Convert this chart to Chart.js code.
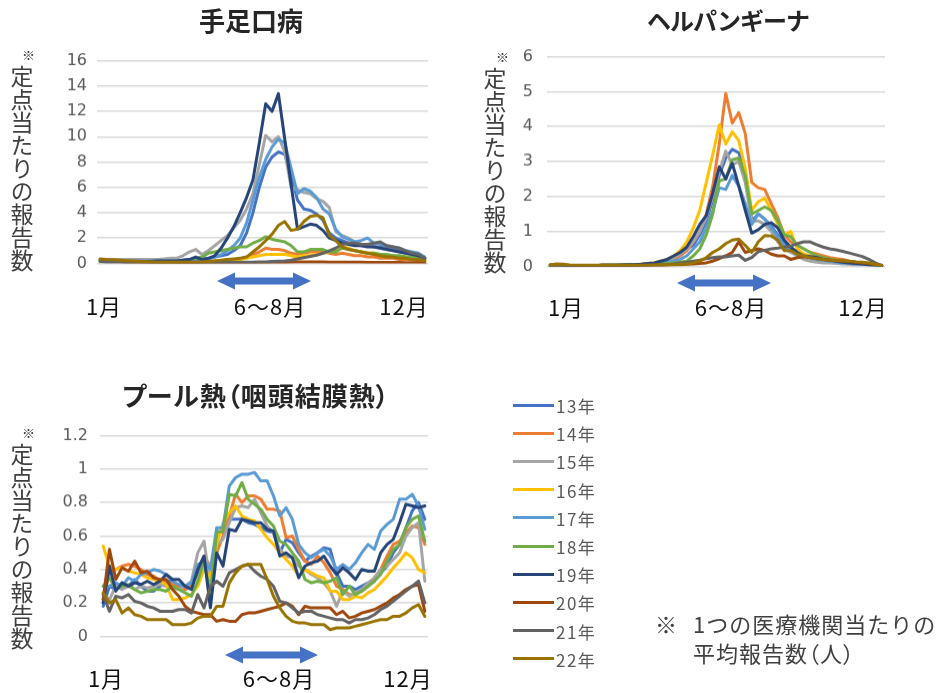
<!DOCTYPE html>
<html><head><meta charset="utf-8">
<script src="https://cdn.jsdelivr.net/npm/chart.js@4.4.1/dist/chart.umd.min.js"></script>
<style>
html,body{margin:0;padding:0;background:#fff;}
#page{position:relative;width:939px;height:693px;overflow:hidden;font-family:"Noto Sans CJK JP",sans-serif;}
.abs{position:absolute;white-space:nowrap;}
.title{font-weight:bold;font-size:26px;line-height:26px;color:#262626;transform:translate(-50%,-50%);}
.ytitle{writing-mode:vertical-rl;font-size:23px;line-height:23px;color:#404040;}
.kome{font-size:13px;line-height:13px;color:#404040;}
.xl{font-size:22px;line-height:22px;color:#111;letter-spacing:1px;transform:translate(-50%,-50%);}
.leg{font-size:17px;line-height:17px;color:#595959;letter-spacing:1.5px;transform:translateY(-50%);}
.legline{position:absolute;height:3px;width:41px;}
.note{font-size:22px;line-height:22px;color:#404040;letter-spacing:1px;}
canvas{position:absolute;}
svg{position:absolute;left:0;top:0;}
</style></head>
<body><div id="page">
<canvas id="c1"></canvas><canvas id="c2"></canvas><canvas id="c3"></canvas>
<svg id="arrows" width="939" height="693"></svg>
</div>
<script>
// ---- data ----
const years = ['13年','14年','15年','16年','17年','18年','19年','20年','21年','22年'];
const colors = ['#4472C4','#ED7D31','#A5A5A5','#FFC000','#5B9BD5','#70AD47','#264478','#9E480E','#636363','#997300'];
const weeks = Array.from({length:52},(_,i)=>String(i+1));

const hfmdTicks = [0,2,4,6,8,10,12,14,16];
const herpTicks = [0,1,2,3,4,5,6];
const poolTicks = [0,0.2,0.4,0.6,0.8,1,1.2];
const poolTickLabels = ['0','0.2','0.4','0.6','0.8','1','1.2'];

// 手足口病
const hfmd13 = [0.3,0.25,0.2,0.2,0.2,0.2,0.2,0.2,0.2,0.2, 0.2,0.2,0.2,0.25,0.3,0.3,0.35,0.4,0.5,0.6, 0.7,1.0,1.4,2.4,4.0,6.0,7.6,8.4,8.8,8.6, 7.0,5.0,4.3,4.2,3.9,3.4,2.4,2.0,1.8,1.6, 1.5,1.4,1.4,1.3,1.3,1.2,1.1,1.0,0.9,0.8, 0.6,0.4];
const hfmd14 = [0.3,0.25,0.2,0.15,0.15,0.15,0.15,0.15,0.15,0.15, 0.15,0.15,0.15,0.15,0.15,0.15,0.15,0.15,0.2,0.2, 0.3,0.3,0.4,0.5,0.7,0.9,1.2,1.1,1.1,1.0, 0.8,0.7,0.8,0.9,0.9,0.9,0.8,0.7,0.8,0.7, 0.6,0.6,0.5,0.5,0.4,0.4,0.4,0.3,0.3,0.3, 0.2,0.2];
const hfmd15 = [0.3,0.3,0.3,0.3,0.3,0.3,0.3,0.3,0.3,0.3, 0.35,0.4,0.4,0.6,0.9,1.1,0.7,1.0,1.4,1.8, 2.2,2.8,3.4,4.3,5.5,7.8,10.1,9.6,10.0,8.8, 6.0,5.8,5.6,5.5,5.1,4.9,4.4,2.5,2.2,2.0, 1.7,1.5,1.4,1.3,1.2,1.1,1.0,0.9,0.8,0.7, 0.6,0.4];
const hfmd16 = [0.2,0.2,0.15,0.15,0.15,0.15,0.15,0.15,0.15,0.15, 0.15,0.15,0.15,0.15,0.15,0.15,0.15,0.15,0.15,0.2, 0.2,0.2,0.3,0.4,0.5,0.6,0.7,0.7,0.7,0.7, 0.6,0.5,0.6,0.6,0.7,0.8,0.9,1.1,1.3,1.2, 1.0,0.9,0.8,0.8,0.7,0.6,0.6,0.5,0.5,0.4, 0.3,0.2];
const hfmd17 = [0.2,0.2,0.2,0.2,0.2,0.2,0.2,0.2,0.2,0.2, 0.2,0.2,0.2,0.2,0.25,0.3,0.3,0.35,0.5,0.7, 1.0,1.4,2.0,3.2,5.0,6.8,8.2,9.2,9.8,9.5, 7.5,5.5,5.9,5.7,5.2,4.3,3.9,2.7,2.1,1.9, 1.7,1.8,2.0,1.6,1.5,1.4,1.3,1.2,1.0,0.9, 0.8,0.5];
const hfmd18 = [0.2,0.2,0.15,0.15,0.15,0.15,0.15,0.15,0.15,0.15, 0.15,0.15,0.2,0.2,0.3,0.4,0.5,0.8,0.9,1.0, 1.1,1.2,1.3,1.3,1.6,1.8,2.1,1.9,1.8,1.7, 1.4,0.9,0.9,1.1,1.1,1.1,0.9,0.9,1.2,1.1, 1.0,0.9,0.8,0.8,0.7,0.7,0.6,0.6,0.5,0.5, 0.4,0.3];
const hfmd19 = [0.2,0.2,0.15,0.15,0.15,0.15,0.15,0.15,0.15,0.2, 0.2,0.2,0.2,0.25,0.3,0.5,0.3,0.4,0.6,1.2, 2.0,2.9,4.0,5.2,6.6,9.5,12.6,12.0,13.4,9.8, 6.2,2.7,2.9,3.1,3.0,2.6,2.0,1.8,1.6,1.5, 1.4,1.4,1.3,1.3,1.2,1.1,1.0,0.9,0.8,0.7, 0.6,0.4];
const hfmd20 = [0.3,0.25,0.2,0.15,0.1,0.1,0.1,0.08,0.08,0.08, 0.05,0.05,0.05,0.05,0.05,0.05,0.05,0.05,0.05,0.05, 0.05,0.05,0.05,0.05,0.05,0.05,0.05,0.05,0.05,0.08, 0.1,0.12,0.12,0.12,0.12,0.12,0.1,0.1,0.1,0.1, 0.1,0.1,0.08,0.08,0.08,0.08,0.08,0.08,0.06,0.06, 0.05,0.05];
const hfmd21 = [0.15,0.1,0.1,0.1,0.1,0.1,0.1,0.1,0.1,0.1, 0.1,0.1,0.1,0.1,0.1,0.1,0.1,0.1,0.1,0.1, 0.1,0.1,0.1,0.1,0.1,0.12,0.12,0.15,0.18,0.2, 0.25,0.35,0.45,0.55,0.65,0.8,1.0,1.2,1.5,1.6, 1.6,1.5,1.5,1.6,1.7,1.4,1.3,1.2,1.0,0.8, 0.7,0.4];
const hfmd22 = [0.35,0.3,0.28,0.25,0.22,0.2,0.18,0.15,0.12,0.1, 0.1,0.1,0.1,0.1,0.1,0.1,0.12,0.15,0.2,0.25, 0.3,0.35,0.4,0.5,0.9,1.3,1.8,2.3,3.0,3.3, 2.6,2.7,3.3,3.7,3.8,3.6,2.2,1.8,1.3,1.1, 1.0,0.9,0.8,0.7,0.6,0.5,0.5,0.4,0.4,0.3, 0.3,0.2];

// ヘルパンギーナ
const herp13 = [0.03,0.05,0.03,0.02,0.02,0.02,0.02,0.02,0.03,0.03, 0.03,0.03,0.04,0.04,0.05,0.06,0.08,0.1,0.15,0.25, 0.35,0.5,0.6,0.9,1.3,1.9,2.6,3.1,3.35,3.25, 2.7,1.3,1.5,1.35,1.15,0.9,0.7,0.5,0.4,0.3, 0.25,0.2,0.18,0.15,0.12,0.1,0.1,0.08,0.06,0.05, 0.03,0.02];
const herp14 = [0.03,0.05,0.03,0.02,0.02,0.02,0.02,0.02,0.03,0.03, 0.03,0.03,0.04,0.04,0.05,0.06,0.08,0.1,0.15,0.2, 0.3,0.45,0.7,1.0,1.5,2.3,3.5,4.95,4.1,4.4, 3.8,2.4,2.25,2.2,1.8,1.4,0.9,0.7,0.6,0.5, 0.4,0.35,0.3,0.25,0.22,0.2,0.15,0.12,0.1,0.08, 0.05,0.02];
const herp15 = [0.03,0.05,0.03,0.02,0.02,0.02,0.02,0.02,0.03,0.03, 0.03,0.04,0.05,0.05,0.06,0.07,0.08,0.1,0.15,0.25, 0.35,0.5,0.7,1.0,1.4,2.0,2.7,3.3,2.9,3.0, 2.4,1.3,1.3,1.2,1.0,0.7,0.5,0.4,0.3,0.2, 0.15,0.12,0.1,0.1,0.08,0.07,0.06,0.05,0.05,0.04, 0.03,0.02];
const herp16 = [0.03,0.05,0.03,0.02,0.02,0.02,0.02,0.02,0.03,0.03, 0.03,0.03,0.04,0.05,0.06,0.08,0.1,0.15,0.2,0.3, 0.45,0.7,1.1,1.6,2.4,3.2,4.05,3.5,3.85,3.6, 2.8,1.6,1.85,1.95,1.6,1.2,0.9,1.0,0.5,0.35, 0.3,0.25,0.2,0.18,0.15,0.12,0.1,0.1,0.08,0.06, 0.03,0.02];
const herp17 = [0.03,0.05,0.03,0.02,0.02,0.02,0.02,0.02,0.03,0.03, 0.03,0.03,0.04,0.04,0.05,0.06,0.08,0.1,0.12,0.15, 0.2,0.3,0.5,0.7,1.1,1.6,2.25,2.2,2.6,2.3, 1.8,1.2,1.5,1.35,1.1,0.85,0.6,0.45,0.35,0.3, 0.25,0.2,0.18,0.15,0.12,0.1,0.08,0.07,0.06,0.05, 0.03,0.02];
const herp18 = [0.03,0.05,0.03,0.02,0.02,0.02,0.02,0.02,0.03,0.03, 0.03,0.03,0.04,0.04,0.05,0.05,0.06,0.07,0.08,0.1, 0.12,0.15,0.3,0.5,0.9,1.5,2.45,2.5,3.05,3.1, 2.6,1.5,1.6,1.7,1.6,1.3,0.9,0.85,0.6,0.5, 0.4,0.3,0.25,0.2,0.18,0.15,0.12,0.1,0.08,0.06, 0.04,0.02];
const herp19 = [0.03,0.05,0.03,0.02,0.02,0.02,0.02,0.02,0.03,0.03, 0.03,0.04,0.05,0.05,0.06,0.08,0.1,0.15,0.2,0.3, 0.4,0.55,0.85,1.2,1.45,2.1,2.85,2.5,2.95,2.3, 1.6,0.95,1.05,1.2,1.25,1.1,0.75,0.55,0.4,0.3, 0.28,0.25,0.2,0.18,0.15,0.12,0.1,0.08,0.07,0.05, 0.03,0.02];
const herp20 = [0.03,0.05,0.03,0.02,0.02,0.02,0.02,0.02,0.02,0.02, 0.02,0.02,0.02,0.02,0.02,0.02,0.03,0.03,0.04,0.05, 0.05,0.06,0.07,0.08,0.1,0.15,0.22,0.3,0.4,0.7, 0.4,0.45,0.5,0.45,0.35,0.3,0.3,0.2,0.25,0.28, 0.25,0.22,0.2,0.18,0.16,0.15,0.14,0.12,0.1,0.08, 0.05,0.03];
const herp21 = [0.02,0.03,0.02,0.02,0.02,0.02,0.02,0.02,0.02,0.02, 0.02,0.02,0.02,0.02,0.02,0.03,0.03,0.03,0.05,0.07, 0.1,0.12,0.15,0.18,0.22,0.25,0.27,0.27,0.3,0.32, 0.17,0.25,0.42,0.46,0.5,0.52,0.55,0.58,0.65,0.7, 0.7,0.62,0.55,0.5,0.47,0.43,0.38,0.33,0.28,0.2, 0.1,0.02];
const herp22 = [0.05,0.07,0.06,0.04,0.03,0.03,0.03,0.03,0.03,0.03, 0.03,0.03,0.03,0.03,0.03,0.03,0.04,0.04,0.05,0.05, 0.06,0.07,0.1,0.15,0.25,0.4,0.5,0.65,0.75,0.78, 0.6,0.4,0.7,0.88,0.87,0.75,0.45,0.45,0.35,0.3, 0.25,0.22,0.2,0.18,0.17,0.16,0.15,0.13,0.12,0.1, 0.06,0.02];

// プール熱
const pool13 = [0.18,0.30,0.28,0.32,0.30,0.34,0.30,0.27,0.27,0.30, 0.33,0.33,0.30,0.28,0.30,0.38,0.45,0.30,0.63,0.62, 0.70,0.70,0.70,0.68,0.67,0.65,0.63,0.62,0.50,0.58, 0.56,0.50,0.45,0.48,0.50,0.53,0.52,0.38,0.30,0.30, 0.28,0.30,0.32,0.33,0.38,0.42,0.50,0.55,0.65,0.75, 0.80,0.70];
const pool14 = [0.22,0.38,0.40,0.42,0.43,0.42,0.40,0.37,0.36,0.33, 0.32,0.31,0.30,0.28,0.30,0.40,0.48,0.42,0.50,0.60, 0.72,0.85,0.80,0.84,0.84,0.82,0.76,0.76,0.75,0.59, 0.60,0.52,0.45,0.43,0.48,0.44,0.38,0.30,0.28,0.25, 0.25,0.27,0.30,0.35,0.40,0.48,0.55,0.57,0.62,0.66, 0.65,0.55];
const pool15 = [0.25,0.22,0.30,0.28,0.30,0.28,0.30,0.29,0.30,0.31, 0.30,0.29,0.28,0.30,0.33,0.50,0.57,0.30,0.55,0.58, 0.68,0.77,0.78,0.77,0.82,0.74,0.66,0.62,0.52,0.48, 0.47,0.42,0.40,0.37,0.35,0.32,0.27,0.18,0.27,0.24, 0.26,0.28,0.32,0.35,0.40,0.42,0.46,0.50,0.60,0.65, 0.68,0.33];
const pool16 = [0.54,0.42,0.40,0.41,0.39,0.38,0.37,0.35,0.34,0.33, 0.31,0.22,0.22,0.23,0.25,0.30,0.40,0.35,0.55,0.68, 0.74,0.78,0.72,0.70,0.69,0.64,0.59,0.55,0.50,0.46, 0.42,0.36,0.40,0.38,0.36,0.35,0.27,0.27,0.22,0.22, 0.24,0.23,0.26,0.28,0.32,0.36,0.41,0.45,0.50,0.47, 0.40,0.38];
const pool17 = [0.30,0.30,0.32,0.30,0.35,0.33,0.37,0.38,0.40,0.39, 0.37,0.33,0.31,0.30,0.32,0.43,0.45,0.40,0.65,0.65, 0.90,0.95,0.97,0.97,0.98,0.93,0.93,0.84,0.72,0.77, 0.70,0.55,0.50,0.47,0.50,0.52,0.48,0.40,0.43,0.40, 0.44,0.50,0.55,0.52,0.63,0.67,0.70,0.82,0.82,0.85, 0.78,0.64];
const pool18 = [0.30,0.35,0.28,0.30,0.31,0.28,0.26,0.27,0.28,0.28, 0.27,0.30,0.28,0.26,0.24,0.33,0.45,0.25,0.62,0.63, 0.85,0.84,0.92,0.82,0.79,0.76,0.70,0.66,0.57,0.55, 0.50,0.45,0.34,0.32,0.33,0.32,0.33,0.35,0.25,0.30, 0.25,0.27,0.30,0.33,0.37,0.45,0.52,0.55,0.65,0.70, 0.72,0.57];
const pool19 = [0.20,0.42,0.27,0.32,0.30,0.32,0.31,0.33,0.31,0.33, 0.37,0.34,0.34,0.30,0.28,0.40,0.48,0.17,0.50,0.42, 0.64,0.63,0.70,0.69,0.68,0.68,0.64,0.63,0.48,0.50, 0.47,0.35,0.42,0.44,0.45,0.48,0.42,0.37,0.41,0.38, 0.34,0.40,0.39,0.39,0.50,0.55,0.58,0.68,0.79,0.78, 0.77,0.78];
const pool20 = [0.22,0.52,0.34,0.41,0.39,0.45,0.38,0.39,0.35,0.34, 0.34,0.28,0.24,0.18,0.15,0.14,0.13,0.13,0.09,0.10, 0.09,0.09,0.13,0.14,0.14,0.15,0.16,0.17,0.18,0.20, 0.18,0.13,0.18,0.17,0.17,0.17,0.17,0.13,0.15,0.11, 0.12,0.14,0.15,0.16,0.18,0.20,0.23,0.25,0.28,0.30, 0.31,0.15];
const pool21 = [0.25,0.15,0.24,0.23,0.25,0.21,0.20,0.18,0.17,0.15, 0.15,0.15,0.16,0.16,0.14,0.25,0.17,0.30,0.33,0.30, 0.38,0.40,0.42,0.43,0.39,0.36,0.34,0.30,0.21,0.20, 0.17,0.14,0.15,0.15,0.13,0.12,0.11,0.10,0.10,0.08, 0.10,0.10,0.11,0.13,0.16,0.18,0.21,0.24,0.27,0.30, 0.33,0.20];
const pool22 = [0.26,0.20,0.22,0.14,0.17,0.13,0.12,0.10,0.10,0.10, 0.10,0.07,0.07,0.07,0.08,0.11,0.12,0.12,0.18,0.18, 0.32,0.38,0.42,0.43,0.43,0.43,0.34,0.24,0.17,0.12, 0.09,0.08,0.08,0.07,0.07,0.07,0.04,0.05,0.05,0.05, 0.06,0.07,0.08,0.09,0.10,0.10,0.12,0.12,0.14,0.17, 0.19,0.12];

const titles = ['手足口病','ヘルパンギーナ','プール熱（咽頭結膜熱）'];
const yTitle = '定点当たりの報告数';
const xLabels = ['1月','6～8月','12月'];
const noteLines = ['1つの医療機関当たりの','平均報告数（人）'];

// ---- layout ----
const page = document.getElementById('page');
function addDiv(cls, text, x, y, extra) {
  const d = document.createElement('div');
  d.className = 'abs ' + cls; d.textContent = text;
  d.style.left = x + 'px'; d.style.top = y + 'px';
  if (extra) Object.assign(d.style, extra);
  page.appendChild(d); return d;
}

function makeChart(cv, W, H, ticks, labels, pad, series) {
  cv.width = W; cv.height = H; cv.style.width = W + 'px'; cv.style.height = H + 'px';
  return new Chart(cv, {
    type: 'line',
    data: {
      labels: weeks,
      datasets: years.map((y, i) => ({
        label: y, data: series[i], borderColor: colors[i], backgroundColor: colors[i],
        borderWidth: 3, pointRadius: 0, pointHoverRadius: 0, tension: 0, fill: false,
        borderJoinStyle: 'round', borderCapStyle: 'round', order: years.length - i
      }))
    },
    options: {
      responsive: false, maintainAspectRatio: false, animation: false, devicePixelRatio: 1,
      layout: { padding: { top: 14, right: 6, bottom: 14, left: 0 } },
      plugins: { legend: { display: false }, tooltip: { enabled: false } },
      scales: {
        x: { display: false, offset: true },
        y: {
          min: ticks[0], max: ticks[ticks.length - 1],
          afterFit: s => { s.width = 60; },
          afterBuildTicks: s => { s.ticks = ticks.map(v => ({ value: v })); },
          border: { display: false },
          grid: { color: '#d9d9d9', lineWidth: 1.5, drawTicks: false },
          ticks: { padding: pad, color: '#595959', font: { family: 'DejaVu Sans', size: 16 },
                   callback: (v, i) => labels[i] }
        }
      }
    }
  });
}

function build(id, box, ticks, labels, pad, series) {
  const cv = document.getElementById(id);
  let W = box.r - box.l + 66, H = box.b - box.t + 28;
  let chart = makeChart(cv, W, H, ticks, labels, pad, series);
  let ca = chart.chartArea;
  const dw = (box.r - box.l) - (ca.right - ca.left);
  const dh = (box.b - box.t) - (ca.bottom - ca.top);
  if (Math.abs(dw) > 0.5 || Math.abs(dh) > 0.5) {
    chart.destroy();
    W += dw; H += dh;
    chart = makeChart(cv, W, H, ticks, labels, pad, series);
    ca = chart.chartArea;
  }
  cv.style.left = (box.l - ca.left) + 'px';
  cv.style.top = (box.t - ca.top) + 'px';
  return chart;
}

build('c1', { l: 97, r: 428, t: 61, b: 263 }, hfmdTicks, hfmdTicks.map(String), 10,
  [hfmd13, hfmd14, hfmd15, hfmd16, hfmd17, hfmd18, hfmd19, hfmd20, hfmd21, hfmd22]);
build('c2', { l: 547, r: 885, t: 57, b: 266 }, herpTicks, herpTicks.map(String), 14,
  [herp13, herp14, herp15, herp16, herp17, herp18, herp19, herp20, herp21, herp22]);
build('c3', { l: 100, r: 428, t: 436, b: 636 }, poolTicks, poolTickLabels, 12,
  [pool13, pool14, pool15, pool16, pool17, pool18, pool19, pool20, pool21, pool22]);

// titles
addDiv('title', titles[0], 251, 20);
addDiv('title', titles[1], 728, 20, { fontSize: '24px', letterSpacing: '-1px' });
addDiv('title', titles[2], 256, 395, { fontFeatureSettings: '"palt"', letterSpacing: '1px' });

// y titles
[[10, 65, 22, 48], [483, 67, 496, 50], [10, 443, 22, 426]].forEach(p => {
  addDiv('ytitle', yTitle, p[0], p[1]);
  addDiv('kome', '※', p[2], p[3]);
});

// x labels
[[104, 305, 270, 404], [566, 306, 731, 863], [106, 677, 279, 408]].forEach(p => {
  addDiv('xl', xLabels[0], p[0], p[1]);
  addDiv('xl', xLabels[1], p[2], p[1]);
  addDiv('xl', xLabels[2], p[3], p[1]);
});

// arrows
const svg = document.getElementById('arrows');
function arrow(x1, x2, y) {
  const hl = 18, hh = 8.5, sh = 3.5;
  const pts = [[x1, y], [x1 + hl, y - hh], [x1 + hl, y - sh], [x2 - hl, y - sh], [x2 - hl, y - hh], [x2, y],
    [x2 - hl, y + hh], [x2 - hl, y + sh], [x1 + hl, y + sh], [x1 + hl, y + hh]];
  const p = document.createElementNS('http://www.w3.org/2000/svg', 'polygon');
  p.setAttribute('points', pts.map(a => a.join(',')).join(' '));
  p.setAttribute('fill', '#4472C4');
  svg.appendChild(p);
}
arrow(217, 311, 281);
arrow(677, 771, 283);
arrow(225, 318, 655);

// legend
years.forEach((y, i) => {
  const cy = 405 + i * 28.2;
  const l = document.createElement('div');
  l.className = 'legline';
  l.style.left = '513px'; l.style.top = (cy - 1.5) + 'px'; l.style.background = colors[i];
  page.appendChild(l);
  addDiv('leg', y, 556, cy);
});

// note
addDiv('note', '※', 655, 612);
addDiv('note', noteLines[0], 693, 612);
addDiv('note', noteLines[1], 693, 641, { fontFeatureSettings: '"palt"' });
</script>
</body></html>
